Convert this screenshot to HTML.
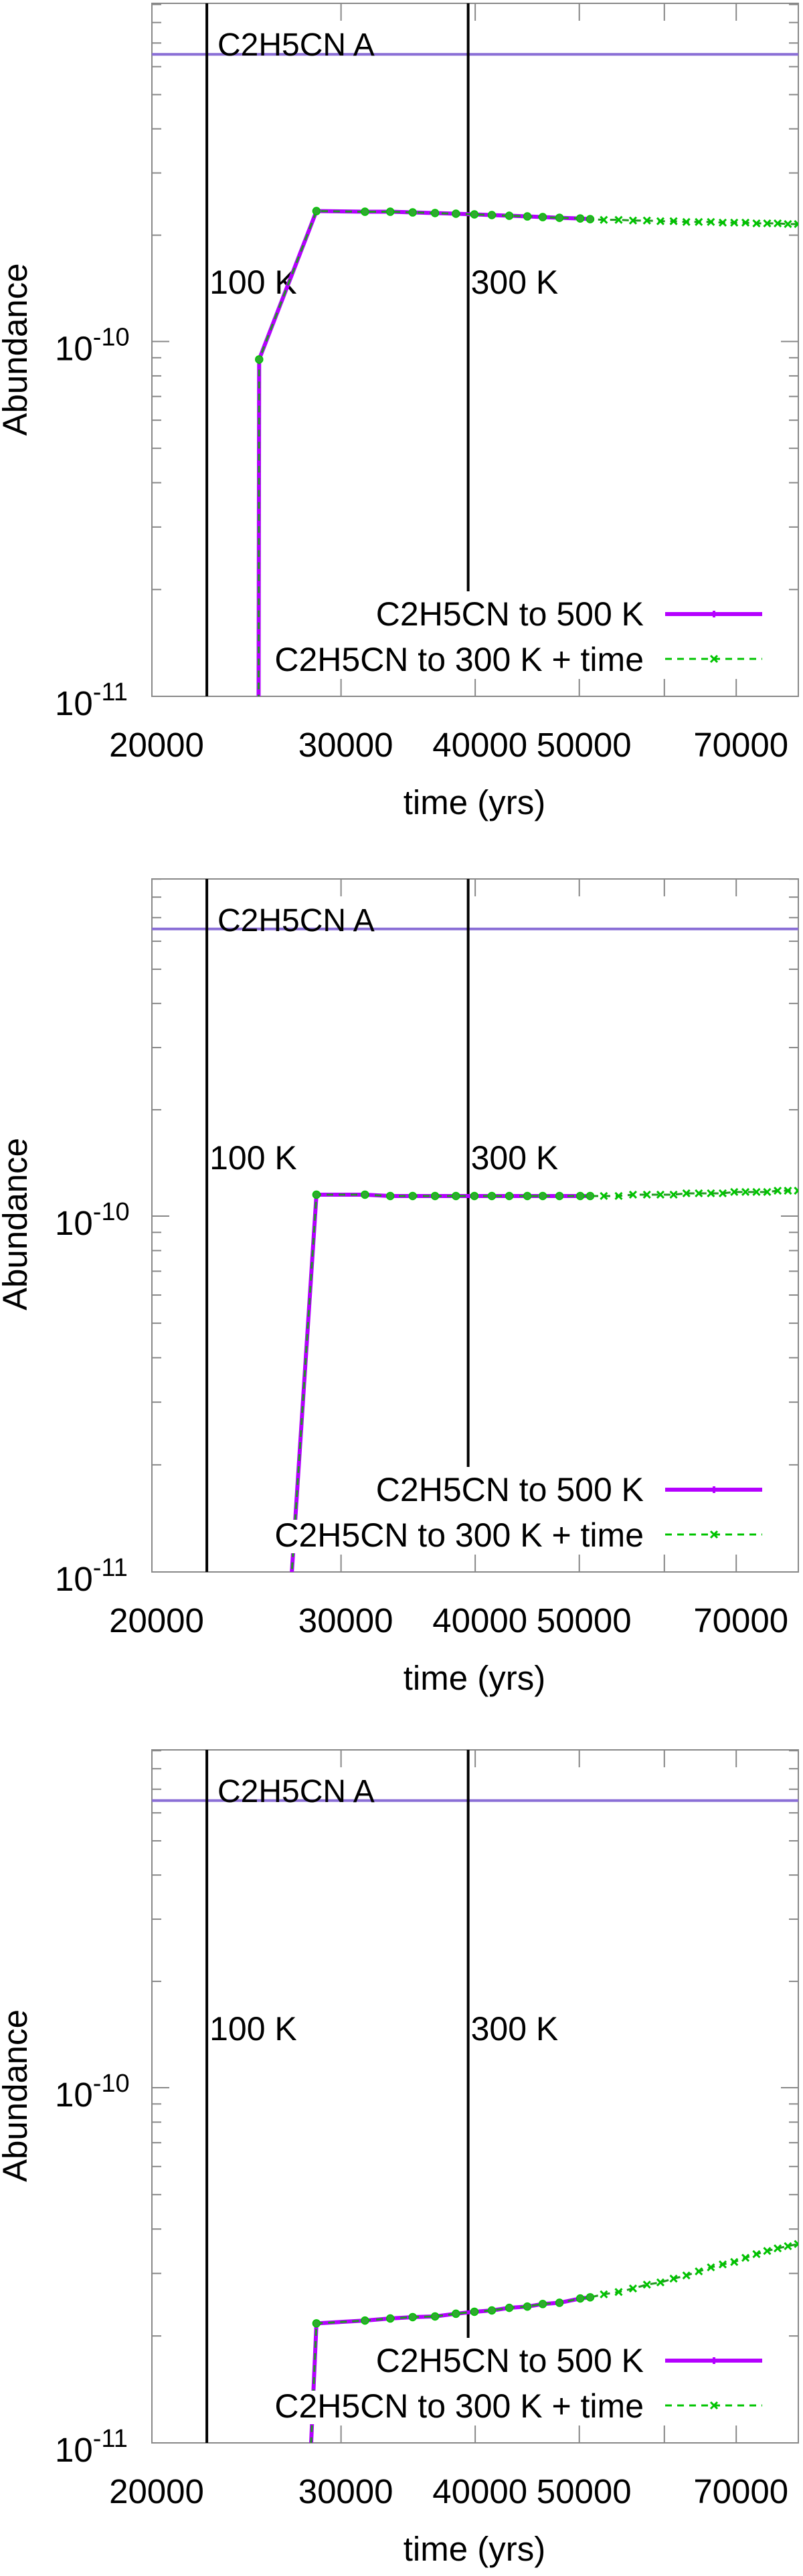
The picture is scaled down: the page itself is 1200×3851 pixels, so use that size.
<!DOCTYPE html>
<html><head><meta charset="utf-8"><style>
html,body{margin:0;padding:0;background:#fff;overflow:hidden;}
svg{display:block;}
text{font-family:"Liberation Sans",sans-serif;fill:#000;}
</style></head><body>
<svg id="chart" xmlns="http://www.w3.org/2000/svg" width="1200" height="3851" viewBox="0 0 1200 3851"></svg>
<script>
// ---- data ----
const xTickValues = [30000, 40000, 50000, 60000, 70000];
const xTickLabels = ["20000", "30000", "40000", "50000", "70000"];
const xTickLabelValues = [20000, 30000, 40000, 50000, 70000];
const yMinorValues = [2e-11,3e-11,4e-11,5e-11,6e-11,7e-11,8e-11,9e-11,2e-10,3e-10,4e-10,5e-10,6e-10,7e-10,8e-10,9e-10];
const vlineTimes = [22500, 39400];
const vlineLabels = ["100 K", "300 K"];
const refLevel = 6.5e-10;
const times500 = [25050, 25170, 28460, 31580, 33340, 34980, 36700, 38380, 39930, 41450, 43030, 44730, 46230, 47920, 50100, 51180];
const timesExtra = [52700, 54400, 56100, 57800, 59500, 61200, 62900, 64600, 66300, 68000, 69700, 71400, 73100, 74800, 76500, 78200, 79900];
const p1Values500 = [1e-14, 8.9e-11, 2.34e-10, 2.33e-10, 2.33e-10, 2.32e-10, 2.31e-10, 2.30e-10, 2.29e-10, 2.28e-10, 2.27e-10, 2.26e-10, 2.25e-10, 2.24e-10, 2.23e-10, 2.22e-10];
const p1ValuesExtra = [2.21e-10, 2.21e-10, 2.20e-10, 2.20e-10, 2.19e-10, 2.19e-10, 2.18e-10, 2.18e-10, 2.18e-10, 2.17e-10, 2.17e-10, 2.17e-10, 2.16e-10, 2.16e-10, 2.16e-10, 2.15e-10, 2.15e-10];
const p2Values500 = [1e-14, 3.9e-13, 1.15e-10, 1.15e-10, 1.14e-10, 1.14e-10, 1.14e-10, 1.14e-10, 1.14e-10, 1.14e-10, 1.14e-10, 1.14e-10, 1.14e-10, 1.14e-10, 1.14e-10, 1.14e-10];
const p2ValuesExtra = [1.14e-10, 1.14e-10, 1.15e-10, 1.15e-10, 1.15e-10, 1.15e-10, 1.16e-10, 1.16e-10, 1.16e-10, 1.16e-10, 1.17e-10, 1.17e-10, 1.17e-10, 1.17e-10, 1.18e-10, 1.18e-10, 1.18e-10];
const p3Values500 = [1e-17, 5e-15, 2.17e-11, 2.21e-11, 2.24e-11, 2.26e-11, 2.27e-11, 2.31e-11, 2.34e-11, 2.36e-11, 2.40e-11, 2.42e-11, 2.46e-11, 2.48e-11, 2.55e-11, 2.57e-11];
const p3ValuesExtra = [2.62e-11, 2.66e-11, 2.72e-11, 2.79e-11, 2.83e-11, 2.90e-11, 2.96e-11, 3.04e-11, 3.12e-11, 3.18e-11, 3.23e-11, 3.32e-11, 3.40e-11, 3.47e-11, 3.53e-11, 3.58e-11, 3.63e-11];
const panels500 = [p1Values500, p2Values500, p3Values500];
const panelsExtra = [p1ValuesExtra, p2ValuesExtra, p3ValuesExtra];

// ---- layout (per panel frame geometry) ----
const panelTop = [5, 1314, 2616];
const panelY10 = [510.5, 1818, 3121];
const panelBottom = [1041, 2350, 3652];

const NS = "http://www.w3.org/2000/svg";
const svg = document.getElementById("chart");
const L = 227, R = 1193, XDEC = 1605, UPDEC = 528;
const PINK = "#b400ff", GREEN = "#00c400", AXIS = "#888";
function xs(t){ return L + Math.log10(t/20000)*XDEC; }
function mk(tag, attrs, parent){ const e = document.createElementNS(NS, tag); for (const k in attrs) e.setAttribute(k, attrs[k]); (parent||svg).appendChild(e); return e; }

for (let p = 0; p < 3; p++) {
  const top = panelTop[p], y10 = panelY10[p], bot = panelBottom[p];
  const lowDec = bot - y10;
  const ys = v => v >= 1e-10 ? y10 - Math.log10(v/1e-10)*UPDEC : y10 + Math.log10(1e-10/v)*lowDec;
  const g = mk("g", {});
  
  
  const clip = mk("clipPath", {id: "clip"+p}, g);
  mk("rect", {x: L, y: top, width: R-L, height: bot-top}, clip);

  const frame = mk("rect", {x: L, y: top, width: R-L, height: bot-top, fill: "none", stroke: AXIS, "stroke-width": 2}, g);
  
  

  yMinorValues.forEach(v => {
    const y = ys(v);
    if (y < top) return;
    mk("line", {x1: L, x2: L+14, y1: y, y2: y, stroke: AXIS, "stroke-width": 2}, g);
    mk("line", {x1: R, x2: R-14, y1: y, y2: y, stroke: AXIS, "stroke-width": 2}, g);
  });
  mk("line", {x1: L, x2: L+26, y1: y10, y2: y10, stroke: AXIS, "stroke-width": 2}, g);
  mk("line", {x1: R, x2: R-26, y1: y10, y2: y10, stroke: AXIS, "stroke-width": 2}, g);
  [[1e-10,"-10"],[1e-11,"-11"]].forEach(([v,e]) => {
    const t = mk("text", {x: 82, y: ys(v)+28, "font-size": 51}, g);
    
    
    t.textContent = "10";
    const s = mk("tspan", {dy: -22, "font-size": 38}, t);
    s.textContent = e;
  });
  xTickValues.forEach(v => {
    const x = xs(v);
    mk("line", {x1: x, x2: x, y1: bot, y2: bot-26, stroke: AXIS, "stroke-width": 2}, g);
    mk("line", {x1: x, x2: x, y1: top, y2: top+26, stroke: AXIS, "stroke-width": 2}, g);
  });
  xTickLabels.forEach((lab, i) => {
    const t = mk("text", {x: xs(xTickLabelValues[i])+7, y: bot+90, "font-size": 51, "text-anchor": "middle"}, g);
    
    
    t.textContent = lab;
  });
  const yt = mk("text", {x: 0, y: 0, "font-size": 51, "text-anchor": "middle", transform: `translate(40,${y10+12}) rotate(-90)`}, g);
  
  
  yt.textContent = "Abundance";
  const xt = mk("text", {x: 709, y: bot+176, "font-size": 51, "text-anchor": "middle"}, g);
  
  
  xt.textContent = "time (yrs)";

  const ry = ys(refLevel);
  const rl = mk("line", {x1: L, x2: R, y1: ry, y2: ry, stroke: "#8a6fd6", "stroke-width": 4}, g);
  
  
  const rt = mk("text", {x: 325, y: top+78, "font-size": 48}, g);
  
  
  rt.textContent = "C2H5CN A";

  vlineTimes.forEach((t, i) => {
    const x = xs(t);
    const ln = mk("line", {x1: x, x2: x, y1: top, y2: i===1 ? bot-157 : bot, stroke: "#000", "stroke-width": 4}, g);
    
    
    const tx = mk("text", {x: x+4, y: top+434, "font-size": 50}, g);
    
    
    tx.textContent = vlineLabels[i];
  });

  // data
  const dg = mk("g", {"clip-path": `url(#clip${p})`}, g);
  const v500 = panels500[p], vEx = panelsExtra[p];
  const pts500 = times500.map((t,i) => xs(t)+","+ys(v500[i])).join(" ");
  const s500 = mk("polyline", {points: pts500, fill: "none", stroke: PINK, "stroke-width": 6, "stroke-linejoin": "round"}, dg);
  
  
  const allT = times500.concat(timesExtra), allV = v500.concat(vEx);
  const ptsG = allT.map((t,i) => xs(t)+","+ys(allV[i])).join(" ");
  const sg = mk("polyline", {points: ptsG, fill: "none", stroke: "#1f9a1f", "stroke-width": 3, "stroke-dasharray": "10 8"}, dg);
  
  
  times500.forEach((t,i) => {
    const c = mk("circle", {cx: xs(t), cy: ys(v500[i]), r: 5.5, fill: "#2faa2f", stroke: GREEN, "stroke-width": 1.5}, dg);
    
    
  });
  timesExtra.forEach((t,i) => {
    const x = xs(t), y = ys(vEx[i]);
    const m = mk("path", {d: `M${x-5} ${y-5} L${x+5} ${y+5} M${x+5} ${y-5} L${x-5} ${y+5}`, stroke: GREEN, "stroke-width": 3}, dg);
    
    
  });

  // legend
  const leg = mk("g", {}, g);
  
  
  const b1 = bot - 106, b2 = bot - 38;
  mk("rect", {x: 548, y: b1-40, width: 416, height: 50, fill: "#fff"}, leg);
  mk("rect", {x: 392, y: b2-40, width: 572, height: 50, fill: "#fff"}, leg);
  const l1 = mk("text", {x: 962, y: b1, "font-size": 50, "text-anchor": "end"}, leg);
  
  
  l1.textContent = "C2H5CN to 500 K";
  mk("line", {x1: 994, x2: 1139, y1: b1-17, y2: b1-17, stroke: PINK, "stroke-width": 6}, leg);
  mk("line", {x1: 1067, x2: 1067, y1: b1-22, y2: b1-12, stroke: PINK, "stroke-width": 4}, leg);
  const l2 = mk("text", {x: 962, y: b2, "font-size": 50, "text-anchor": "end"}, leg);
  
  
  l2.textContent = "C2H5CN to 300 K + time";
  mk("line", {x1: 994, x2: 1139, y1: b2-18, y2: b2-18, stroke: GREEN, "stroke-width": 3, "stroke-dasharray": "10 8"}, leg);
  mk("path", {d: `M1062 ${b2-23} l10 10 M1072 ${b2-23} l-10 10`, stroke: GREEN, "stroke-width": 3}, leg);
}
</script>
</body></html>
